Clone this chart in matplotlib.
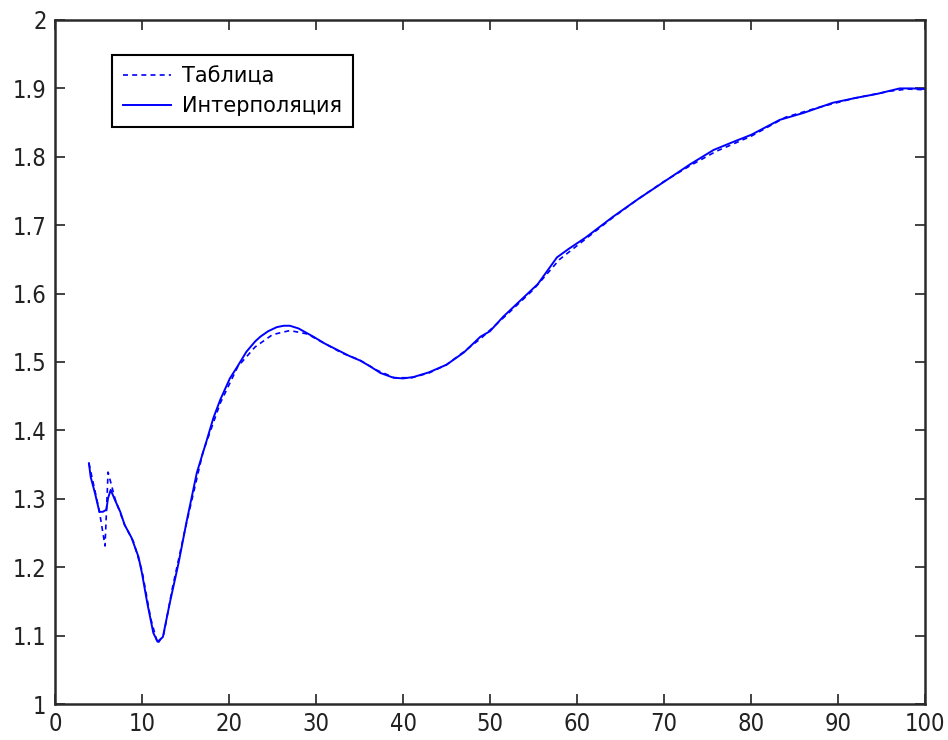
import matplotlib.pyplot as plt
import numpy as np

# tabulated points (dashed)
x_tab = [3.9, 5.1, 5.75, 6.1, 6.9, 8.0, 9.0, 10.0, 11.0, 11.8, 12.5, 13.5, 15.0, 17.0,
         19.0, 21.0, 23.0, 25.0, 27.0, 29.0, 31.0, 33.0, 35.0, 37.0, 39.0, 41.0, 43.0,
         45.0, 47.0, 49.0, 52.0, 55.0, 58.0, 61.0, 64.0, 67.0, 70.0, 73.0, 76.0, 80.0,
         84.0, 88.0, 92.0, 96.0, 98.0, 100.0]
y_tab = [1.352, 1.282, 1.231, 1.339, 1.300, 1.262, 1.238, 1.195, 1.125, 1.088, 1.102,
         1.170, 1.258, 1.368, 1.440, 1.493, 1.522, 1.540, 1.546, 1.541, 1.527, 1.513,
         1.503, 1.488, 1.477, 1.477, 1.484, 1.496, 1.515, 1.535, 1.570, 1.606, 1.650,
         1.680, 1.710, 1.738, 1.764, 1.787, 1.808, 1.830, 1.858, 1.873, 1.886, 1.896,
         1.899, 1.898]

# interpolated curve (solid)
x_int = [3.9, 4.1, 4.6, 5.1, 5.5, 5.9, 6.1, 6.4, 6.9, 7.5, 8.0, 8.8, 9.6, 10.0, 10.6,
         11.3, 11.8, 12.4, 13.2, 14.2, 15.1, 16.3, 17.5, 18.2, 19.0, 20.1, 21.0, 22.0,
         23.0, 23.6, 24.5, 25.5, 26.3, 27.0, 28.0, 29.7, 31.0, 32.4, 33.8, 35.1, 36.3,
         37.4, 38.9, 40.0, 41.2, 43.0, 45.0, 47.0, 48.9, 50.0, 51.5, 53.5, 55.5, 57.7,
         59.0, 61.0, 64.1, 67.0, 70.3, 73.0, 75.7, 78.0, 80.0, 83.3, 86.0, 89.4, 92.0,
         94.5, 97.1, 98.5, 100.0]
y_int = [1.352, 1.332, 1.308, 1.281, 1.281, 1.284, 1.301, 1.313, 1.298, 1.281, 1.262,
         1.243, 1.215, 1.191, 1.148, 1.104, 1.091, 1.098, 1.148, 1.206, 1.265, 1.338,
         1.388, 1.418, 1.445, 1.476, 1.494, 1.515, 1.530, 1.537, 1.545, 1.551, 1.553,
         1.553, 1.549, 1.537, 1.527, 1.518, 1.509, 1.502, 1.493, 1.484, 1.477, 1.476,
         1.478, 1.485, 1.496, 1.514, 1.537, 1.545, 1.566, 1.590, 1.614, 1.653, 1.665,
         1.682, 1.712, 1.738, 1.766, 1.789, 1.810, 1.822, 1.832, 1.854, 1.864, 1.879,
         1.886, 1.892, 1.900, 1.900, 1.899]

fig = plt.figure(figsize=(9.48, 7.4), dpi=100)
ax = fig.add_axes([55/948, 36/740, 870/948, 684/740])

ax.plot(x_tab, y_tab, color='blue', linestyle=(0, (3, 2.5)), linewidth=1.2, label='Таблица')
ax.plot(x_int, y_int, color='blue', linestyle='-', linewidth=1.4, label='Интерполяция')

ax.set_xlim(0, 100)
ax.set_ylim(1, 2)
ax.set_xticks(np.arange(0, 101, 10))
ax.set_yticks(np.arange(1, 2.01, 0.1))
ax.set_yticklabels(['1', '1.1', '1.2', '1.3', '1.4', '1.5', '1.6', '1.7', '1.8', '1.9', '2'])

for lab in ax.get_xticklabels() + ax.get_yticklabels():
    lab.set_family('DejaVu Sans')
    lab.set_stretch('condensed')
    lab.set_fontsize(17)
    lab.set_color('#222222')

ax.tick_params(direction='in', length=7, width=1.2, top=True, right=True,
               colors='#222222', pad=6)
for sp in ax.spines.values():
    sp.set_linewidth(1.8)
    sp.set_color('#2a2a2a')

leg = ax.legend(loc='upper left', bbox_to_anchor=(57/870, 649/684), borderaxespad=0,
                fancybox=False, frameon=True, edgecolor='black', framealpha=1,
                prop={'family': 'DejaVu Sans', 'size': 15}, handlelength=2.3,
                handletextpad=0.5, borderpad=0.55, labelspacing=0.45)
leg.get_frame().set_linewidth(1.5)

plt.savefig('out.png', dpi=100)
